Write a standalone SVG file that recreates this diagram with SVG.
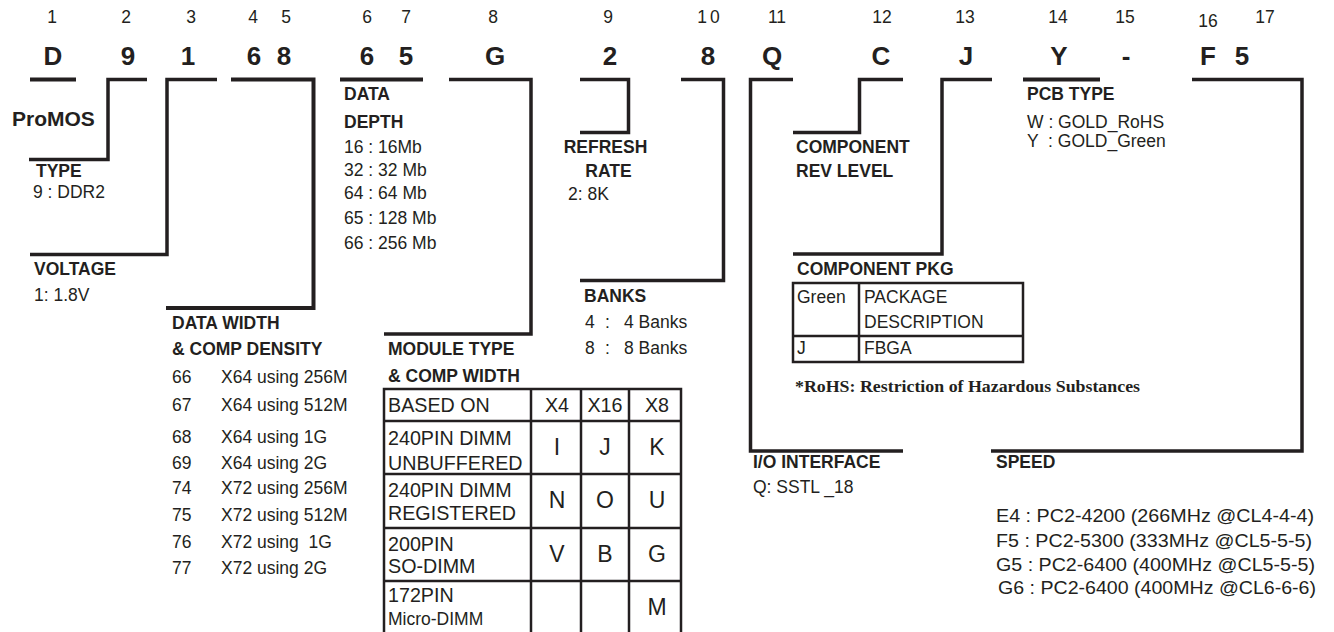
<svg xmlns="http://www.w3.org/2000/svg" width="1334" height="632" viewBox="0 0 1334 632">
<style>
text{font-family:"Liberation Sans",Arial,sans-serif;fill:#231f20}
.num{font-size:17.5px;text-anchor:middle}
.big{font-size:26px;font-weight:bold;text-anchor:middle}
.lbl{font-size:17.5px;font-weight:bold}
.t{font-size:17.5px}
.tb{font-size:19.7px}
.cell{font-size:23px;text-anchor:middle}
.mid{text-anchor:middle}
.bar{stroke:#231f20;stroke-width:4;fill:none}
.br{stroke:#231f20;stroke-width:3.5;fill:none;stroke-linejoin:miter}
.grid{stroke:#231f20;stroke-width:2.5;fill:none}
.note{font-family:"Liberation Serif","Times New Roman",serif;font-weight:bold;font-size:17.5px}
</style>
<rect width="1334" height="632" fill="#fff"/>

<g id="connectors">
  <line class="bar" x1="30" y1="79.5" x2="76" y2="79.5"/>
  <polyline class="br" points="147,79.5 108,79.5 108,159.5 29,159.5"/>
  <polyline class="br" points="217,79.5 167,79.5 167,254.5 30,254.5"/>
  <polyline class="bar" points="231,79.5 313.5,79.5 313.5,308 166,308"/>
  <line class="bar" x1="340" y1="79.5" x2="423" y2="79.5"/>
  <polyline class="br" points="449,79.5 531,79.5 531,334 384,334"/>
  <polyline class="br" points="580,79.5 628.5,79.5 628.5,132.5 580,132.5"/>
  <polyline class="br" points="681,79.5 723.5,79.5 723.5,280.5 580,280.5"/>
  <polyline class="br" points="793,79.5 750.5,79.5 750.5,451 903,451"/>
  <polyline class="br" points="903,79.5 859.5,79.5 859.5,132.5 793,132.5"/>
  <polyline class="br" points="992,79.5 942,79.5 942,254 793,254"/>
  <line class="bar" x1="1023" y1="79.5" x2="1100" y2="79.5"/>
  <polyline class="br" points="1192,79.5 1302,79.5 1302,451 991,451"/>
</g>

<g id="pos-1"><text class="num" x="52" y="23">1</text><text class="big" x="53" y="65">D</text></g>
<g id="pos-2"><text class="num" x="126" y="23">2</text><text class="big" x="128" y="65">9</text></g>
<g id="pos-3"><text class="num" x="191" y="23">3</text><text class="big" x="188" y="65">1</text></g>
<g id="pos-4"><text class="num" x="253" y="23">4</text><text class="big" x="254" y="65">6</text></g>
<g id="pos-5"><text class="num" x="286" y="23">5</text><text class="big" x="284" y="65">8</text></g>
<g id="pos-6"><text class="num" x="367" y="23">6</text><text class="big" x="367" y="65">6</text></g>
<g id="pos-7"><text class="num" x="406" y="23">7</text><text class="big" x="406" y="65">5</text></g>
<g id="pos-8"><text class="num" x="493" y="23">8</text><text class="big" x="495" y="65">G</text></g>
<g id="pos-9"><text class="num" x="608" y="23">9</text><text class="big" x="610" y="65">2</text></g>
<g id="pos-10"><text class="num" x="710" y="23" letter-spacing="3">10</text><text class="big" x="708" y="65">8</text></g>
<g id="pos-11"><text class="num" x="777" y="23">11</text><text class="big" x="772" y="65">Q</text></g>
<g id="pos-12"><text class="num" x="882" y="23">12</text><text class="big" x="881" y="65">C</text></g>
<g id="pos-13"><text class="num" x="965" y="23">13</text><text class="big" x="966" y="65">J</text></g>
<g id="pos-14"><text class="num" x="1058" y="23">14</text><text class="big" x="1059" y="65">Y</text></g>
<g id="pos-15"><text class="num" x="1125" y="23">15</text><text class="big" x="1126" y="65">-</text></g>
<g id="pos-16"><text class="num" x="1208" y="27">16</text><text class="big" x="1208" y="65">F</text></g>
<g id="pos-17"><text class="num" x="1265" y="23">17</text><text class="big" x="1242" y="65">5</text></g>

<g id="promos"><text x="12" y="126" style="font-size:21px;font-weight:bold">ProMOS</text></g>

<g id="type">
  <text class="lbl" x="36" y="177">TYPE</text>
  <text class="t" x="33" y="198">9 : DDR2</text>
</g>

<g id="voltage">
  <text class="lbl" x="34" y="275">VOLTAGE</text>
  <text class="t" x="34" y="300.5">1: 1.8V</text>
</g>

<g id="data-width">
  <text class="lbl" x="172" y="329">DATA WIDTH</text>
  <text class="lbl" x="172" y="355">&amp; COMP DENSITY</text>
  <text class="t" x="172" y="383">66</text><text class="t" x="221" y="383">X64 using 256M</text>
  <text class="t" x="172" y="411">67</text><text class="t" x="221" y="411">X64 using 512M</text>
  <text class="t" x="172" y="443">68</text><text class="t" x="221" y="443">X64 using 1G</text>
  <text class="t" x="172" y="469">69</text><text class="t" x="221" y="469">X64 using 2G</text>
  <text class="t" x="172" y="494">74</text><text class="t" x="221" y="494">X72 using 256M</text>
  <text class="t" x="172" y="521">75</text><text class="t" x="221" y="521">X72 using 512M</text>
  <text class="t" x="172" y="548">76</text><text class="t" x="221" y="548" xml:space="preserve">X72 using  1G</text>
  <text class="t" x="172" y="574">77</text><text class="t" x="221" y="574">X72 using 2G</text>
</g>

<g id="data-depth">
  <text class="lbl" x="344" y="100">DATA</text>
  <text class="lbl" x="344" y="127.5">DEPTH</text>
  <text class="t" x="344" y="153">16 : 16Mb</text>
  <text class="t" x="344" y="176">32 : 32 Mb</text>
  <text class="t" x="344" y="199">64 : 64 Mb</text>
  <text class="t" x="344" y="224">65 : 128 Mb</text>
  <text class="t" x="344" y="249">66 : 256 Mb</text>
</g>

<g id="module-type">
  <text class="lbl" x="388" y="355">MODULE TYPE</text>
  <text class="lbl" x="388" y="382">&amp; COMP WIDTH</text>
  <rect class="grid" x="384" y="389" width="297" height="260"/>
  <line class="grid" x1="531" y1="389" x2="531" y2="640"/>
  <line class="grid" x1="581" y1="389" x2="581" y2="640"/>
  <line class="grid" x1="629" y1="389" x2="629" y2="640"/>
  <line class="grid" x1="384" y1="421" x2="681" y2="421"/>
  <line class="grid" x1="384" y1="474" x2="681" y2="474"/>
  <line class="grid" x1="384" y1="528" x2="681" y2="528"/>
  <line class="grid" x1="384" y1="581" x2="681" y2="581"/>
  <text class="tb" x="388" y="412">BASED ON</text>
  <text class="tb mid" x="557" y="412">X4</text>
  <text class="tb mid" x="605" y="412">X16</text>
  <text class="tb mid" x="657" y="412">X8</text>
  <text class="tb" x="388" y="445">240PIN DIMM</text>
  <text class="tb" x="388" y="470">UNBUFFERED</text>
  <text class="tb" x="388" y="497">240PIN DIMM</text>
  <text class="tb" x="388" y="520">REGISTERED</text>
  <text class="tb" x="388" y="551">200PIN</text>
  <text class="tb" x="388" y="573">SO-DIMM</text>
  <text class="tb" x="388" y="602">172PIN</text>
  <text class="t" x="388" y="625">Micro-DIMM</text>
  <text class="cell" x="557" y="455">I</text><text class="cell" x="605" y="455">J</text><text class="cell" x="657" y="455">K</text>
  <text class="cell" x="557" y="508">N</text><text class="cell" x="605" y="508">O</text><text class="cell" x="657" y="508">U</text>
  <text class="cell" x="557" y="562">V</text><text class="cell" x="605" y="562">B</text><text class="cell" x="657" y="562">G</text>
  <text class="cell" x="657" y="615">M</text>
</g>

<g id="refresh-rate">
  <text class="lbl mid" x="605.5" y="153">REFRESH</text>
  <text class="lbl mid" x="608.5" y="177">RATE</text>
  <text class="t" x="568" y="200">2: 8K</text>
</g>

<g id="banks">
  <text class="lbl" x="584" y="302">BANKS</text>
  <text class="t" x="585" y="327.5">4</text><text class="t" x="605" y="327.5">:</text><text class="t" x="624" y="327.5">4 Banks</text>
  <text class="t" x="585" y="354">8</text><text class="t" x="605" y="354">:</text><text class="t" x="624" y="354">8 Banks</text>
</g>

<g id="io-interface">
  <text class="lbl" x="753" y="468">I/O INTERFACE</text>
  <text class="t" x="753" y="493">Q: SSTL _18</text>
</g>

<g id="component-rev">
  <text class="lbl" x="796" y="153">COMPONENT</text>
  <text class="lbl" x="796" y="177">REV LEVEL</text>
</g>

<g id="component-pkg">
  <text class="lbl" x="797" y="275">COMPONENT PKG</text>
  <rect class="grid" x="793" y="283" width="230" height="79"/>
  <line class="grid" x1="859" y1="283" x2="859" y2="362"/>
  <line class="grid" x1="793" y1="336" x2="1023" y2="336"/>
  <text class="t" x="797" y="303">Green</text>
  <text class="t" x="864" y="303">PACKAGE</text>
  <text class="t" x="864" y="328">DESCRIPTION</text>
  <text class="t" x="797" y="354">J</text>
  <text class="t" x="864" y="354">FBGA</text>
  <text class="note" x="795" y="392" textLength="345" lengthAdjust="spacingAndGlyphs">*RoHS: Restriction of Hazardous Substances</text>
</g>

<g id="pcb-type">
  <text class="lbl" x="1027" y="100">PCB TYPE</text>
  <text class="t" x="1027" y="127.5">W : GOLD_RoHS</text>
  <text class="t" x="1027" y="147" xml:space="preserve">Y  : GOLD_Green</text>
</g>

<g id="speed">
  <text class="lbl" x="996" y="468">SPEED</text>
  <text class="t" x="996" y="522" textLength="318" lengthAdjust="spacingAndGlyphs">E4 : PC2-4200 (266MHz @CL4-4-4)</text>
  <text class="t" x="996" y="547" textLength="316" lengthAdjust="spacingAndGlyphs">F5 : PC2-5300 (333MHz @CL5-5-5)</text>
  <text class="t" x="996" y="571" textLength="319" lengthAdjust="spacingAndGlyphs">G5 : PC2-6400 (400MHz @CL5-5-5)</text>
  <text class="t" x="998" y="594" textLength="318" lengthAdjust="spacingAndGlyphs">G6 : PC2-6400 (400MHz @CL6-6-6)</text>
</g>
</svg>
